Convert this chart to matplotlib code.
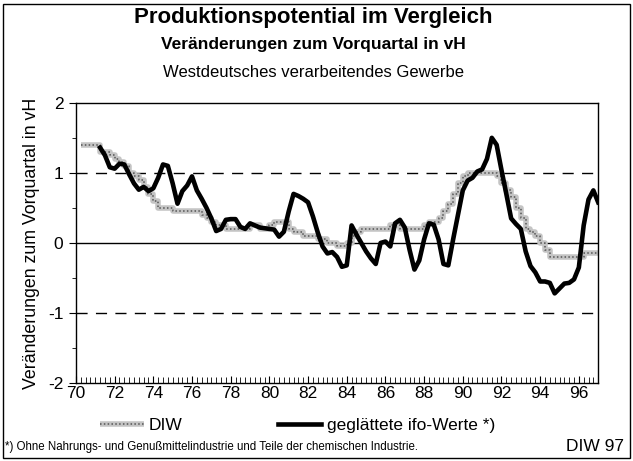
import matplotlib
matplotlib.use('Agg')
import matplotlib.pyplot as plt
from matplotlib.patches import Rectangle
from matplotlib.ticker import MultipleLocator
import numpy as np

plt.rcParams['font.family'] = ['Liberation Sans', 'DejaVu Sans']

# DIW potential estimate, quarterly from 1970 Q2 (x = 70.25)
diw_start = 70.25
diw = [1.4, 1.4, 1.4, 1.4,
       1.3, 1.3, 1.25, 1.2,
       1.15, 1.1, 1.0, 0.95,
       0.9, 0.8, 0.7, 0.6,
       0.5, 0.5, 0.5, 0.45,
       0.45, 0.45, 0.45, 0.45,
       0.45, 0.4, 0.35, 0.3,
       0.25, 0.25, 0.2, 0.2,
       0.2, 0.2, 0.2, 0.25,
       0.25, 0.2, 0.2, 0.25,
       0.3, 0.3, 0.3, 0.2,
       0.15, 0.15, 0.1, 0.1,
       0.1, 0.05, 0.05, 0.0,
       0.0, -0.05, -0.05, 0.0,
       0.1, 0.15, 0.2, 0.2,
       0.2, 0.2, 0.2, 0.2,
       0.25, 0.25, 0.2, 0.2,
       0.2, 0.2, 0.2, 0.25,
       0.3, 0.3, 0.35, 0.45,
       0.55, 0.7, 0.85, 0.95,
       1.0, 1.0, 1.0, 1.0,
       1.0, 1.0, 0.95, 0.85,
       0.75, 0.65, 0.5, 0.35,
       0.2, 0.15, 0.1, 0.0,
       -0.1, -0.2, -0.2, -0.2,
       -0.2, -0.2, -0.2, -0.2,
       -0.15, -0.15, -0.15]

# smoothed ifo values, quarterly from 1971 Q2 (x = 71.25)
ifo_start = 71.25
ifo = [1.36, 1.25, 1.08, 1.06,
       1.13, 1.12, 0.98, 0.85,
       0.76, 0.80, 0.74, 0.78,
       0.93, 1.12, 1.10, 0.85,
       0.56, 0.74, 0.82, 0.95,
       0.75, 0.63, 0.50, 0.35,
       0.17, 0.20, 0.33, 0.34,
       0.34, 0.23, 0.20, 0.28,
       0.25, 0.22, 0.21, 0.20,
       0.19, 0.09, 0.16, 0.45,
       0.70, 0.67, 0.63, 0.58,
       0.38, 0.15, -0.05, -0.15,
       -0.13, -0.20, -0.34, -0.32,
       0.25, 0.12, 0.0, -0.12,
       -0.22, -0.30, 0.0, 0.02,
       -0.05, 0.28, 0.33, 0.22,
       -0.10, -0.38, -0.25, 0.05,
       0.28, 0.26, 0.05, -0.30,
       -0.32, 0.05, 0.40, 0.75,
       0.89, 0.93, 1.02, 1.05,
       1.20, 1.50, 1.40, 1.04,
       0.70, 0.35, 0.27, 0.20,
       -0.12, -0.33, -0.42, -0.55,
       -0.55, -0.57, -0.72, -0.65,
       -0.58, -0.57, -0.52, -0.35,
       0.25, 0.62, 0.75, 0.58]

year_labels = ['70', '72', '74', '76', '78', '80', '82', '84',
               '86', '88', '90', '92', '94', '96']

x_diw = diw_start + 0.25 * np.arange(len(diw))
x_diw = np.append(x_diw, 97.0)
y_diw = np.append(diw, diw[-1])
x_ifo = ifo_start + 0.25 * np.arange(len(ifo))

fig = plt.figure(figsize=(6.33, 4.61), dpi=100)
ax = fig.add_axes([0.120, 0.169, 0.825, 0.608])

# reference lines
ax.axhline(0, color='black', lw=1.0, zorder=1)
ax.axhline(1, color='black', lw=1.0, ls=(0, (8, 6)), zorder=1)
ax.axhline(-1, color='black', lw=1.0, ls=(0, (8, 6)), zorder=1)

# DIW: grey hatched step band
l1, = ax.step(x_diw, y_diw, where='post', color='#c4c4c4', lw=4, zorder=2,
              solid_capstyle='butt')
l2, = ax.step(x_diw, y_diw, where='post', color='#555555', lw=1.1,
              ls=(0, (1, 1.5)), zorder=3)
# ifo smoothed
l3, = ax.plot(x_ifo, ifo, color='black', lw=3.3, zorder=4,
              solid_joinstyle='round')

ax.set_xlim(70, 97)
ax.set_ylim(-2, 2)
ax.set_xticks(np.arange(70, 97, 2))
ax.set_xticklabels(year_labels)
ax.xaxis.set_minor_locator(MultipleLocator(0.25))
ax.set_yticks([-2, -1, 0, 1, 2])
ax.set_yticklabels(['-2', '-1', '0', '1', '2'])
ax.yaxis.set_minor_locator(MultipleLocator(0.5))
ax.tick_params(axis='x', which='major', direction='in', length=5,
               labelsize=12.5, pad=2)
ax.tick_params(axis='x', which='minor', direction='in', length=4)
ax.tick_params(axis='y', which='major', direction='out', length=5,
               labelsize=12.5, pad=4)
ax.tick_params(axis='y', which='minor', direction='out', length=3)
for s in ax.spines.values():
    s.set_linewidth(1.0)
ax.set_ylabel('Veränderungen zum Vorquartal in vH', fontsize=12.8, labelpad=6)

# titles
fig.text(0.495, 0.962, 'Produktionspotential im Vergleich', ha='center',
         va='center', fontsize=16, fontweight='bold')
fig.text(0.495, 0.903, 'Veränderungen zum Vorquartal in vH', ha='center',
         va='center', fontsize=12.5, fontweight='bold')
fig.text(0.495, 0.843, 'Westdeutsches verarbeitendes Gewerbe', ha='center',
         va='center', fontsize=12)

# legend
fig.legend([(l1, l2), l3], ['DIW', 'geglättete ifo-Werte *)'],
           loc='center', bbox_to_anchor=(0.47, 0.078), ncol=2,
           frameon=False, fontsize=12.5, handlelength=2.5,
           handletextpad=0.3, columnspacing=5.5)

# footnote and source
fig.text(0.008, 0.031, '*) Ohne Nahrungs- und Genußmittelindustrie und Teile der chemischen Industrie.',
         ha='left', va='center', fontsize=8.3,
         family=['Liberation Sans Narrow', 'Liberation Sans'])
fig.text(0.985, 0.031, 'DIW 97', ha='right', va='center', fontsize=12.5)

# outer frame
fig.add_artist(Rectangle((0.004, 0.006), 0.991, 0.985, transform=fig.transFigure,
                         fill=False, edgecolor='black', lw=1.0))

fig.savefig('out.png', dpi=100)
